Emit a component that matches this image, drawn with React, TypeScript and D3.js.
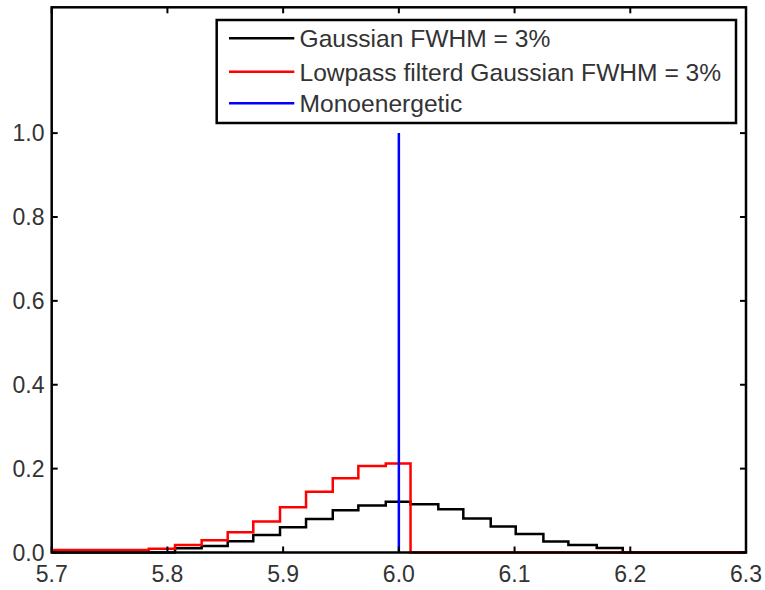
import React from "react";
import * as d3 from "d3";

// Step boundaries (energy)
const xEdges = [5.7, 5.7839, 5.8066, 5.8296, 5.8521, 5.8742, 5.8973, 5.9198, 5.9429, 5.965, 5.9887, 6.0101, 6.0341, 6.0557, 6.0794, 6.101, 6.1249, 6.1465, 6.171, 6.1935, 6.3];
// Value on each interval [xEdges[i], xEdges[i+1]]
const gaussianValues = [0, 0, 0.01, 0.0155, 0.027, 0.042, 0.06, 0.08, 0.101, 0.112, 0.121, 0.115, 0.103, 0.081, 0.062, 0.044, 0.026, 0.018, 0.011, 0];
const lowpassValues = [0.006, 0.009, 0.018, 0.029, 0.048, 0.074, 0.108, 0.145, 0.177, 0.206, 0.212, 0, 0, 0, 0, 0, 0, 0, 0, 0];
const monoX = [6.0, 6.0];
const monoY = [0, 1.0];

const xTicks = [5.7, 5.8, 5.9, 6.0, 6.1, 6.2, 6.3];
const yTicks = [0, 0.2, 0.4, 0.6, 0.8, 1.0];
const legendLabels = ["Gaussian FWHM = 3%", "Lowpass filterd Gaussian FWHM = 3%", "Monoenergetic"];
const legendColors = ["#000000", "#ff0000", "#0000ff"];

const W = 765;
const H = 590;
const L = 51.7, R = 746, T = 7.3, B = 552.5;
const FONT = "'Liberation Sans', Arial, Helvetica, sans-serif";

export default function App() {
  const x = d3.scaleLinear().domain([5.7, 6.3]).range([L, R]);
  const y = d3.scaleLinear().domain([0, 1.3]).range([B, T]);

  const stepLine = d3
    .line<[number, number]>()
    .x((d) => x(d[0]))
    .y((d) => y(d[1]))
    .curve(d3.curveStepAfter);

  const toPts = (vals: number[]): [number, number][] => {
    const pts: [number, number][] = vals.map((v, i) => [xEdges[i], v]);
    pts.push([xEdges[xEdges.length - 1], vals[vals.length - 1]]);
    return pts;
  };

  const blackPath = stepLine(toPts(gaussianValues)) || "";
  const redPath = stepLine(toPts(lowpassValues)) || "";
  const bluePath =
    d3
      .line<[number, number]>()
      .x((d) => x(d[0]))
      .y((d) => y(d[1]))(monoX.map((v, i) => [v, monoY[i]] as [number, number])) || "";

  const tickLen = 6;
  const legX = 216.7, legY = 20, legW = 736 - 216.7, legH = 123 - 20;
  const rowY = [38.3, 71.7, 103.3];

  return (
    <svg
      width={W}
      height={H}
      style={{ position: "absolute", left: 0, top: 0, background: "#fff" }}
    >
      <rect x={0} y={0} width={W} height={H} fill="#fff" />
      <path d={blackPath} fill="none" stroke="#000" strokeWidth={2.5} />
      <path d={redPath} fill="none" stroke="#ff0000" strokeWidth={2.5} />
      <path d={bluePath} fill="none" stroke="#0000ff" strokeWidth={2.5} />

      {/* axes box */}
      <rect x={L} y={T} width={R - L} height={B - T} fill="none" stroke="#000" strokeWidth={2.5} />
      {xTicks.map((t) => (
        <g key={"xt" + t}>
          <line x1={x(t)} x2={x(t)} y1={B} y2={B - tickLen} stroke="#000" strokeWidth={2} />
          <line x1={x(t)} x2={x(t)} y1={T} y2={T + tickLen} stroke="#000" strokeWidth={2} />
          <text
            x={x(t)}
            y={582}
            textAnchor="middle"
            fontFamily={FONT}
            fontSize={23}
            fill="#333"
          >
            {t.toFixed(1)}
          </text>
        </g>
      ))}
      {yTicks.map((t) => (
        <g key={"yt" + t}>
          <line x1={L} x2={L + tickLen} y1={y(t)} y2={y(t)} stroke="#000" strokeWidth={2} />
          <line x1={R} x2={R - tickLen} y1={y(t)} y2={y(t)} stroke="#000" strokeWidth={2} />
          <text
            x={44.5}
            y={y(t)}
            dy="0.36em"
            textAnchor="end"
            fontFamily={FONT}
            fontSize={23}
            fill="#333"
          >
            {t.toFixed(1)}
          </text>
        </g>
      ))}

      {/* legend */}
      <rect x={legX} y={legY} width={legW} height={legH} fill="#fff" stroke="#000" strokeWidth={2.5} />
      {legendLabels.map((lab, i) => (
        <g key={lab}>
          <line x1={229} x2={294.3} y1={rowY[i]} y2={rowY[i]} stroke={legendColors[i]} strokeWidth={2.5} />
          <text
            x={299.5}
            y={rowY[i]}
            dy="0.36em"
            fontFamily={FONT}
            fontSize={24.6}
            fill="#333"
          >
            {lab}
          </text>
        </g>
      ))}
    </svg>
  );
}
